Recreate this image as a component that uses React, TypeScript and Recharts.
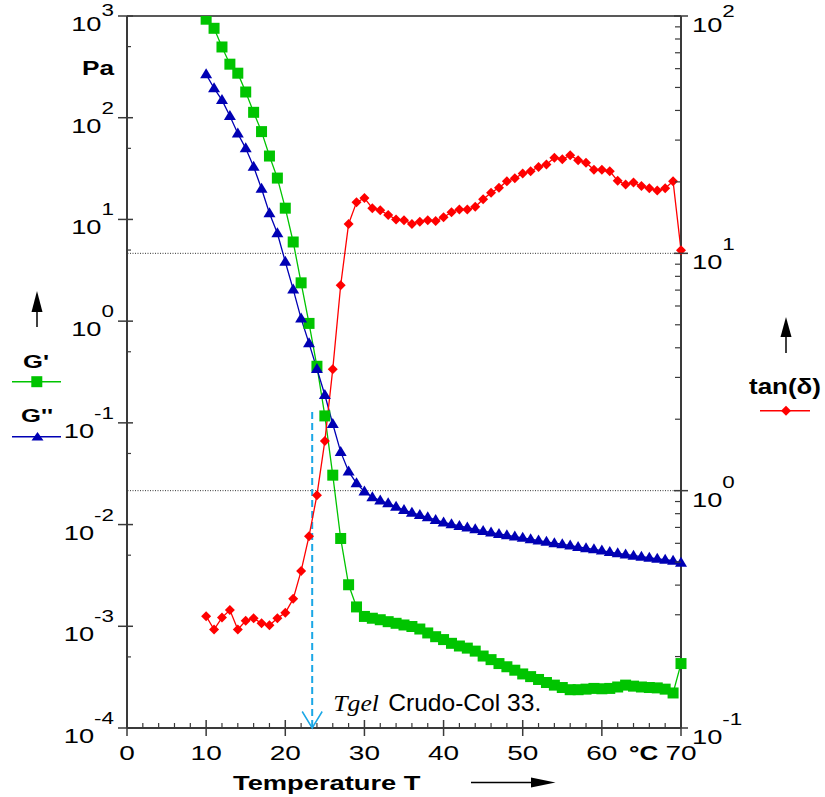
import React from "react"
import { ComposedChart, Line, XAxis, YAxis, ReferenceLine, ReferenceDot } from "recharts"

const temps = [
  10, 11, 12, 13, 14, 15, 16, 17, 18, 19, 20, 21, 22, 23, 24, 25, 26, 27, 28, 29,
  30, 31, 32, 33, 34, 35, 36, 37, 38, 39, 40, 41, 42, 43, 44, 45, 46, 47, 48, 49,
  50, 51, 52, 53, 54, 55, 56, 57, 58, 59, 60, 61, 62, 63, 64, 65, 66, 67, 68, 69, 70,
]

// G' (Pa)
const gPrime = [
  930, 757, 496, 336, 274, 179, 113, 73, 42, 25.5, 12.9, 6.0, 2.38, 0.95, 0.36, 0.117, 0.0306, 0.0073, 0.00256, 0.00155,
  0.00125, 0.0012, 0.00116, 0.00111, 0.00107, 0.00103, 0.000995, 0.00094, 0.00086, 0.00079, 0.00074, 0.00068, 0.00064, 0.00061, 0.00057, 0.00051, 0.00047, 0.00043, 0.0004, 0.00037,
  0.00034, 0.00032, 0.0003, 0.00028, 0.000264, 0.00025, 0.000238, 0.000238, 0.000241, 0.000245, 0.000243, 0.000245, 0.000253, 0.000264, 0.000258, 0.000253, 0.00025, 0.000248, 0.000241, 0.000221, 0.00043,
]

// G'' (Pa)
const gDouble = [
  267, 195, 149, 104, 70, 50, 32.9, 20, 11.5, 7.3, 3.84, 2.05, 1.06, 0.605, 0.338, 0.188, 0.0975, 0.0518, 0.0332, 0.0255,
  0.0211, 0.0186, 0.0172, 0.0162, 0.015, 0.0139, 0.0131, 0.0124, 0.0118, 0.0111, 0.0105, 0.0101, 0.0097, 0.00935, 0.009, 0.00867, 0.00835, 0.0081, 0.00786, 0.00762,
  0.0074, 0.00718, 0.00697, 0.00676, 0.00656, 0.00641, 0.00622, 0.00603, 0.00585, 0.00571, 0.00555, 0.00537, 0.00521, 0.00509, 0.00494, 0.00483, 0.00472, 0.00461, 0.00451, 0.00441, 0.00421,
]

// tan(delta)
const tanDelta = [
  0.296, 0.26, 0.292, 0.314, 0.26, 0.283, 0.29, 0.276, 0.271, 0.29, 0.306, 0.35, 0.459, 0.643, 0.957, 1.62, 3.25, 7.34, 13.3, 16.4,
  17.1, 15.5, 15.2, 14.5, 13.9, 13.8, 13.3, 13.6, 13.8, 13.7, 14.2, 14.9, 15.3, 15.3, 15.7, 16.9, 18.0, 18.9, 20.1, 20.7,
  21.7, 22.2, 23.1, 23.7, 25.3, 24.9, 25.9, 24.7, 24.1, 22.5, 22.5, 22.2, 20.2, 19.5, 19.9, 19.2, 18.8, 18.4, 18.8, 20.1, 10.3,
]

const xTicks = [0, 2, 4, 6, 8, 10, 12, 14, 16, 18, 20, 22, 24, 26, 28, 30, 32, 34, 36, 38, 40, 42, 44, 46, 48, 50, 52, 54, 56, 58, 60, 62, 64, 66, 68, 70]
const leftTicks = [1e-4, 5e-4, 1e-3, 5e-3, 1e-2, 5e-2, 1e-1, 5e-1, 1, 5, 10, 50, 100, 500, 1000]
const rightTicks = [
  0.1, 0.2, 0.3, 0.4, 0.5, 0.6, 0.7, 0.8, 0.9,
  1, 2, 3, 4, 5, 6, 7, 8, 9,
  10, 20, 30, 40, 50, 60, 70, 80, 90, 100,
]

const tGel = 23.4
const tGelTop = 0.128

const data = temps.map((t, i) => ({ T: t, gp: gPrime[i], gpp: gDouble[i], tan: tanDelta[i] }))

const GREEN = "#00c400"
const BLUE = "#0000b4"
const RED = "#ff0000"
const CYAN = "#1aa7e6"
const AXIS = "#3a3a3a"
const SANS = "Liberation Sans, Arial, sans-serif"

function Txt({ x, y, sx = 1.4, size = 19.5, bold = false, anchor = "start", children, family = SANS, italic = false }: any) {
  return (
    <text
      transform={`translate(${x} ${y}) scale(${sx} 1)`}
      fontFamily={family}
      fontSize={size}
      fontWeight={bold ? "bold" : "normal"}
      fontStyle={italic ? "italic" : "normal"}
      textAnchor={anchor}
      fill="#000"
    >
      {children}
    </text>
  )
}

function isMajor(v: number) {
  const l = Math.log10(v)
  return Math.abs(l - Math.round(l)) < 1e-6
}

// superscript sits lower on the top tick so it stays inside the picture
const supDy = (y: number) => (y < 24 ? -15 : -19)

function LeftTick(props: any) {
  const { x, y, payload } = props
  const v = payload.value
  if (!isMajor(v)) return <line x1={x} x2={x + 4} y1={y} y2={y} stroke={AXIS} strokeWidth={1.2} />
  const e = Math.round(Math.log10(v))
  return (
    <g>
      <line x1={x - 9} x2={x + 6} y1={y} y2={y} stroke={AXIS} strokeWidth={1.5} />
      <Txt x={x - 13} y={y + 15} anchor="end">
        10<tspan dy={supDy(y)} fontSize={16}>{e}</tspan>
      </Txt>
    </g>
  )
}

function RightTick(props: any) {
  const { x, y, payload } = props
  const v = payload.value
  if (!isMajor(v)) return <line x1={x - 6} x2={x} y1={y} y2={y} stroke={AXIS} strokeWidth={1.2} />
  const e = Math.round(Math.log10(v))
  return (
    <g>
      <line x1={x - 7} x2={x + 7} y1={y} y2={y} stroke={AXIS} strokeWidth={1.5} />
      <Txt x={x + 11} y={y + 16}>
        10<tspan dy={supDy(y)} fontSize={16}>{e}</tspan>
      </Txt>
    </g>
  )
}

function XTick(props: any) {
  const { x, y, payload } = props
  const v = payload.value
  if (v % 10 !== 0) return <line x1={x} x2={x} y1={y - 5} y2={y} stroke={AXIS} strokeWidth={1.2} />
  return (
    <g>
      <line x1={x} x2={x} y1={y - 8} y2={y + 8} stroke={AXIS} strokeWidth={1.5} />
      <Txt x={x} y={y + 32} size={20} anchor="middle">{v}</Txt>
    </g>
  )
}

const square = (p: any) =>
  p.cx == null ? null : <rect key={`s${p.index}`} x={p.cx - 5.5} y={p.cy - 5.5} width={11} height={11} fill={GREEN} />
const triangle = (p: any) =>
  p.cx == null ? null : (
    <polygon key={`t${p.index}`} points={`${p.cx - 6},${p.cy + 4} ${p.cx + 6},${p.cy + 4} ${p.cx},${p.cy - 6}`} fill={BLUE} />
  )
const diamond = (p: any) =>
  p.cx == null ? null : (
    <polygon key={`d${p.index}`} points={`${p.cx - 5},${p.cy} ${p.cx},${p.cy - 5} ${p.cx + 5},${p.cy} ${p.cx},${p.cy + 5}`} fill={RED} />
  )

function GelMark(props: any) {
  const { cx, cy } = props
  return (
    <g>
      <polyline points={`${cx - 10},${cy - 16.5} ${cx},${cy} ${cx + 10},${cy - 16.5}`} fill="none" stroke={CYAN} strokeWidth={1.5} />
      <Txt x={cx + 21} y={cy - 17.5} size={23} sx={1.12} italic family="Liberation Serif, serif">Tgel</Txt>
      <Txt x={cx + 76} y={cy - 17.5} size={23} sx={1.07}>Crudo-Col 33.</Txt>
    </g>
  )
}

function UpArrow({ x, tip, base, end }: any) {
  return (
    <g>
      <line x1={x} x2={x} y1={base} y2={end} stroke="#000" strokeWidth={1.5} />
      <polygon points={`${x - 5.5},${base} ${x},${tip} ${x + 5.5},${base}`} fill="#000" />
    </g>
  )
}

function Overlay() {
  return (
    <svg width={825} height={797} style={{ position: "absolute", left: 0, top: 0, pointerEvents: "none" }}>
      <Txt x={82} y={75} size={21} bold sx={1.25}>Pa</Txt>
      <UpArrow x={37} tip={291} base={312} end={327} />
      <Txt x={23} y={368} size={19} bold sx={1.35}>G'</Txt>
      <line x1={12} x2={61} y1={381.7} y2={381.7} stroke={GREEN} strokeWidth={1.5} />
      <rect x={31.3} y={376.2} width={11} height={11} fill={GREEN} />
      <Txt x={21} y={421.7} size={19} bold sx={1.35}>G''</Txt>
      <line x1={12} x2={61} y1={436.7} y2={436.7} stroke={BLUE} strokeWidth={1.5} />
      <polygon points="31.5,440.5 43.5,440.5 37.5,432" fill={BLUE} />
      <UpArrow x={786} tip={317} base={337} end={353} />
      <Txt x={749} y={394} size={22} bold sx={1.18}>tan(δ)</Txt>
      <line x1={760} x2={810} y1={410.7} y2={410.7} stroke={RED} strokeWidth={1.5} />
      <polygon points="781,410.7 786,405.7 791,410.7 786,415.7" fill={RED} />
      <Txt x={233} y={790} size={21} bold sx={1.3}>Temperature T</Txt>
      <line x1={471} x2={533} y1={782.5} y2={782.5} stroke="#000" strokeWidth={1.5} />
      <polygon points="531,777.5 555.5,782.5 531,787.5" fill="#000" />
      <Txt x={629} y={760} size={20} bold sx={1.3}>°C</Txt>
    </svg>
  )
}

export default function App() {
  return (
    <div style={{ position: "absolute", left: 0, top: 0, width: 825, height: 797, background: "#fff" }}>
      <ComposedChart width={825} height={797} data={data} margin={{ top: 16, right: 0, bottom: 0, left: 0 }}>
        <XAxis
          dataKey="T"
          type="number"
          domain={[0, 70]}
          ticks={xTicks}
          interval={0}
          height={69}
          tickSize={0}
          tickMargin={0}
          tickLine={false}
          tick={XTick}
          axisLine={{ stroke: AXIS, strokeWidth: 2 }}
        />
        <YAxis
          yAxisId="left"
          scale="log"
          domain={[1e-4, 1e3]}
          allowDataOverflow
          ticks={leftTicks}
          interval={0}
          width={127}
          tickSize={0}
          tickMargin={0}
          tickLine={false}
          tick={LeftTick}
          axisLine={{ stroke: AXIS, strokeWidth: 2 }}
        />
        <YAxis
          yAxisId="right"
          orientation="right"
          scale="log"
          domain={[0.1, 100]}
          allowDataOverflow
          ticks={rightTicks}
          interval={0}
          width={144}
          tickSize={0}
          tickMargin={0}
          tickLine={false}
          tick={RightTick}
          axisLine={{ stroke: AXIS, strokeWidth: 2 }}
        />
        <ReferenceLine yAxisId="left" y={1000} stroke="#222" strokeWidth={1.3} />
        <ReferenceLine yAxisId="right" y={10} stroke="#333" strokeWidth={1} strokeDasharray="1 1.5" />
        <ReferenceLine yAxisId="right" y={1} stroke="#333" strokeWidth={1} strokeDasharray="1 1.5" />
        <ReferenceLine
          yAxisId="left"
          segment={[{ x: tGel, y: tGelTop }, { x: tGel, y: 1e-4 }]}
          stroke={CYAN}
          strokeWidth={2}
          strokeDasharray="7 4"
        />
        <Line yAxisId="left" dataKey="gp" type="linear" stroke={GREEN} strokeWidth={1.3} dot={square} activeDot={false} isAnimationActive={false} />
        <Line yAxisId="left" dataKey="gpp" type="linear" stroke={BLUE} strokeWidth={1.3} dot={triangle} activeDot={false} isAnimationActive={false} />
        <Line yAxisId="right" dataKey="tan" type="linear" stroke={RED} strokeWidth={1.3} dot={diamond} activeDot={false} isAnimationActive={false} />
        <ReferenceDot yAxisId="left" x={tGel} y={1e-4} shape={GelMark} ifOverflow="visible" />
      </ComposedChart>
      <Overlay />
    </div>
  )
}
